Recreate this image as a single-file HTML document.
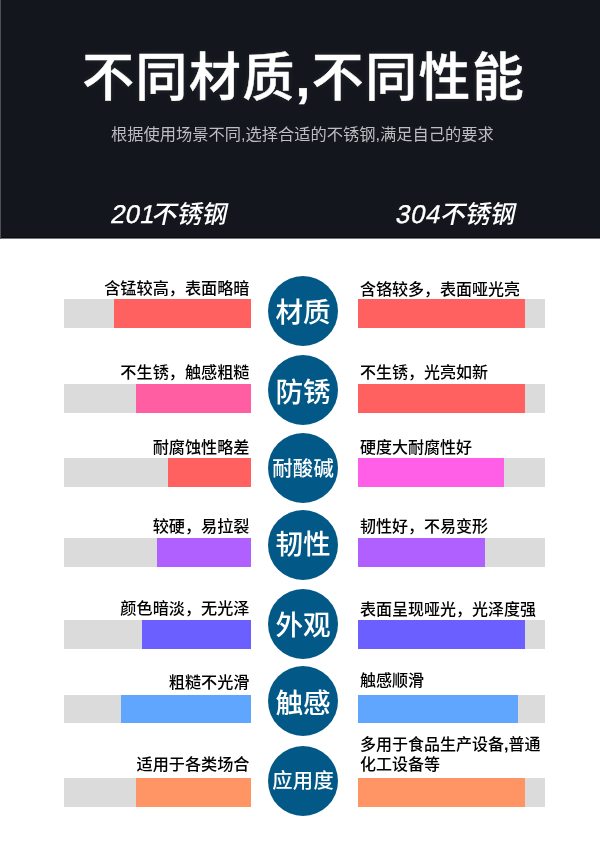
<!DOCTYPE html><html lang="zh-CN"><head><meta charset="utf-8"><title>不同材质,不同性能</title><style>
html,body{margin:0;padding:0;}
body{width:600px;height:853px;position:relative;overflow:hidden;background:#fff;font-family:"Liberation Sans","Noto Sans CJK SC",sans-serif;}
.hd{position:absolute;left:0;top:0;width:600px;height:239px;box-sizing:border-box;border-left:1px solid #4e5159;background:linear-gradient(#14161e 0,#14161e 237px,#0b0c13 237px,#0b0c13 238px,#74757b 238px,#74757b 239px);}
.t{position:absolute;left:3px;width:600px;text-align:center;white-space:nowrap;}
.title{top:42px;left:3.8px;font-size:51.8px;line-height:72px;letter-spacing:1.6px;color:#fff;font-weight:500;-webkit-text-stroke:0.5px #fff;text-shadow:0 0 6px rgba(255,255,255,.09);}
.title b{font-weight:700;}
.sub{top:122px;left:2.3px;font-size:16.25px;line-height:24px;color:#bebec2;font-weight:400;}
.lab{position:absolute;top:197px;font-size:25px;line-height:34px;letter-spacing:-0.15px;color:#fff;font-weight:500;white-space:nowrap;transform:skewX(-12deg);transform-origin:0 100%;}
.lab b{font-weight:400;font-size:25.7px;letter-spacing:0.7px;-webkit-text-stroke:0.35px #fff;}
.lab i{font-style:normal;margin-right:-2.2px;}
.bar{position:absolute;background:#dbdbdb;}
.fill{position:absolute;top:0;height:100%;}
.tx{position:absolute;font-size:16px;line-height:20px;color:#000;font-weight:500;white-space:nowrap;}
.tl{font-size:16.15px;}
.tx b{font-weight:700;}
.c{position:absolute;border-radius:50%;font-weight:500;background:#025886;color:#fff;text-align:center;white-space:nowrap;}
</style></head><body>
<div class="hd"></div>
<div class="t title">不同材质<b>,</b>不同性能</div>
<div class="t sub">根据使用场景不同,选择合适的不锈钢,满足自己的要求</div>
<div class="lab" style="left:108px"><b style="letter-spacing:0.3px">20<i>1</i></b>不锈钢</div>
<div class="lab" style="left:393px"><b>304</b>不锈钢</div>
<div class="bar" style="left:64px;top:299px;width:187px;height:29px"><div class="fill" style="left:50px;width:137px;background:#ff6161"></div></div>
<div class="bar" style="left:358px;top:299px;width:187px;height:29px"><div class="fill" style="left:0;width:167px;background:#ff6161"></div></div>
<div class="tx tl" style="right:350.5px;top:278px">含锰较高，表面略暗</div>
<div class="tx" style="left:360px;top:280px">含铬较多，表面哑光亮</div>
<div class="c" style="left:268.0px;top:275.8px;width:70px;height:70px;line-height:74.5px;font-size:27.6px;letter-spacing:0px;text-indent:0px">材质</div>
<div class="bar" style="left:64px;top:384px;width:187px;height:29px"><div class="fill" style="left:72px;width:115px;background:#ff5fa2"></div></div>
<div class="bar" style="left:358px;top:384px;width:187px;height:29px"><div class="fill" style="left:0;width:167px;background:#ff6161"></div></div>
<div class="tx tl" style="right:350.5px;top:362px">不生锈，触感粗糙</div>
<div class="tx" style="left:360px;top:363px">不生锈，光亮如新</div>
<div class="c" style="left:268.0px;top:355.3px;width:70px;height:70px;line-height:76.5px;font-size:27.6px;letter-spacing:0px;text-indent:0px">防锈</div>
<div class="bar" style="left:64px;top:458px;width:187px;height:29px"><div class="fill" style="left:104px;width:83px;background:#ff6161"></div></div>
<div class="bar" style="left:358px;top:458px;width:187px;height:29px"><div class="fill" style="left:0;width:146px;background:#ff5fe6"></div></div>
<div class="tx tl" style="right:350.5px;top:437px">耐腐蚀性略差</div>
<div class="tx" style="left:360px;top:438px">硬度大耐腐性好</div>
<div class="c" style="left:268.0px;top:432.8px;width:70px;height:70px;line-height:72.0px;font-size:20.3px;letter-spacing:0.3px;text-indent:0.3px">耐酸碱</div>
<div class="bar" style="left:64px;top:538px;width:187px;height:29px"><div class="fill" style="left:93px;width:94px;background:#b060ff"></div></div>
<div class="bar" style="left:358px;top:538px;width:187px;height:29px"><div class="fill" style="left:0;width:127px;background:#b060ff"></div></div>
<div class="tx tl" style="right:350.5px;top:516px">较硬，易拉裂</div>
<div class="tx" style="left:360px;top:517px">韧性好，不易变形</div>
<div class="c" style="left:268.0px;top:510.2px;width:70px;height:70px;line-height:70.5px;font-size:27.6px;letter-spacing:0px;text-indent:0px">韧性</div>
<div class="bar" style="left:64px;top:620px;width:187px;height:28.5px"><div class="fill" style="left:78px;width:109px;background:#6b60ff"></div></div>
<div class="bar" style="left:358px;top:620px;width:187px;height:28.5px"><div class="fill" style="left:0;width:167px;background:#6b60ff"></div></div>
<div class="tx tl" style="right:350.5px;top:598px">颜色暗淡，无光泽</div>
<div class="tx" style="left:360px;top:600px">表面呈现哑光，光泽度强</div>
<div class="c" style="left:268.0px;top:588.6px;width:70px;height:70px;line-height:74.5px;font-size:27.6px;letter-spacing:0px;text-indent:0px">外观</div>
<div class="bar" style="left:64px;top:694.5px;width:187px;height:28.5px"><div class="fill" style="left:57px;width:130px;background:#60a6ff"></div></div>
<div class="bar" style="left:358px;top:694.5px;width:187px;height:28.5px"><div class="fill" style="left:0;width:160px;background:#60a6ff"></div></div>
<div class="tx tl" style="right:350.5px;top:672px">粗糙不光滑</div>
<div class="tx" style="left:360px;top:671px">触感顺滑</div>
<div class="c" style="left:268.0px;top:666.3px;width:70px;height:70px;line-height:76.5px;font-size:27.6px;letter-spacing:0px;text-indent:0px">触感</div>
<div class="bar" style="left:64px;top:778px;width:187px;height:28.5px"><div class="fill" style="left:72px;width:115px;background:#ff9464"></div></div>
<div class="bar" style="left:358px;top:778px;width:187px;height:28.5px"><div class="fill" style="left:0;width:167px;background:#ff9464"></div></div>
<div class="tx tl" style="right:350.5px;top:754px">适用于各类场合</div>
<div class="tx" style="left:360px;top:735px">多用于食品生产设备<b>,</b>普通<br>化工设备等</div>
<div class="c" style="left:268.0px;top:745.5px;width:70px;height:70px;line-height:71px;font-size:20.3px;letter-spacing:0.3px;text-indent:0.3px">应用度</div>
</body></html>
